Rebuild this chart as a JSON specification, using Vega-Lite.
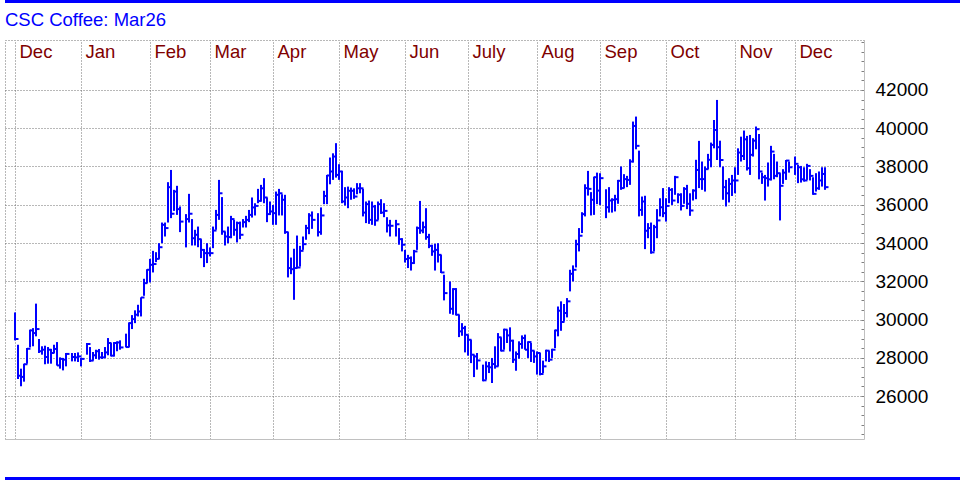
{
"$schema": "https://vega.github.io/schema/vega-lite/v6.json",
"background": "white",
"padding": {"left": 5, "top": 0, "right": 0, "bottom": 0},
"spacing": 0,
"config": {"view": {"stroke": null}, "font": "Liberation Sans"},
"vconcat": [
{"width": 955, "height": 3, "view": {"fill": "#0000ff", "stroke": null}, "data": {"values": []}, "mark": "rule", "encoding": {}},
{"width": 955, "height": 7, "data": {"values": []}, "mark": "rule", "encoding": {}},
{
"width": 859, "height": 399,
"title": {"text": "CSC Coffee: Mar26", "anchor": "start", "frame": "group", "fontSize": 18.5, "font": "Liberation Sans", "fontWeight": "normal", "color": "#0000ff", "offset": 2},
"data": {"values": [
{"i":0,"h":30370,"l":28910,"c":28980},{"i":1,"h":28680,"l":26890,"c":27060},{"i":2,"h":27430,"l":26510,"c":27000},{"i":3,"h":27690,"l":26750,"c":27660},{"i":4,"h":28510,"l":27690,"c":28470},{"i":5,"h":29470,"l":28540,"c":29430},{"i":6,"h":29550,"l":28600,"c":29290},{"i":7,"h":30830,"l":29120,"c":29500},{"i":8,"h":28980,"l":28250,"c":28340},{"i":9,"h":28600,"l":28160,"c":28420},
{"i":10,"h":28630,"l":27660,"c":28040},{"i":11,"h":28560,"l":27690,"c":28420},{"i":12,"h":28460,"l":27690,"c":28250},{"i":13,"h":28680,"l":28250,"c":28460},{"i":14,"h":28820,"l":27590,"c":27600},{"i":15,"h":28020,"l":27430,"c":27940},{"i":16,"h":27990,"l":27340,"c":27900},{"i":17,"h":28250,"l":27550,"c":28200},{"i":19,"h":28250,"l":27810,"c":28040},
{"i":20,"h":28250,"l":27810,"c":28020},{"i":21,"h":28280,"l":27780,"c":28070},{"i":22,"h":27990,"l":27550,"c":27940},{"i":24,"h":28770,"l":28160,"c":28720},{"i":25,"h":28560,"l":27780,"c":27850},{"i":26,"h":28300,"l":27850,"c":28130},{"i":27,"h":28420,"l":27940,"c":28340},{"i":28,"h":28460,"l":27900,"c":28020},{"i":29,"h":28300,"l":27940,"c":28020},
{"i":30,"h":28560,"l":27990,"c":28280},{"i":31,"h":29030,"l":28130,"c":28770},{"i":32,"h":28770,"l":28070,"c":28110},{"i":33,"h":28820,"l":28070,"c":28770},{"i":34,"h":28860,"l":28340,"c":28800},{"i":35,"h":28910,"l":28420,"c":28540},{"i":37,"h":29260,"l":28540,"c":28560},{"i":38,"h":29850,"l":28560,"c":29810},{"i":39,"h":30230,"l":29500,"c":30020},
{"i":40,"h":30480,"l":29810,"c":30250},{"i":41,"h":30770,"l":30160,"c":30420},{"i":42,"h":31160,"l":30160,"c":31150},{"i":43,"h":32130,"l":31240,"c":31900},{"i":44,"h":32630,"l":31900,"c":32600},{"i":45,"h":33170,"l":31940,"c":32860},{"i":46,"h":33590,"l":32460,"c":32900},{"i":47,"h":33520,"l":33000,"c":33170},{"i":48,"h":33990,"l":33170,"c":33780},{"i":49,"h":35070,"l":33990,"c":34950},
{"i":50,"h":35070,"l":34340,"c":34780},{"i":51,"h":37180,"l":35070,"c":36920},{"i":52,"h":37820,"l":35300,"c":35530},{"i":53,"h":36780,"l":35680,"c":36690},{"i":54,"h":36990,"l":35470,"c":35770},{"i":55,"h":35910,"l":34570,"c":35120},{"i":57,"h":35510,"l":33770,"c":35250},{"i":58,"h":36570,"l":35070,"c":35530},{"i":59,"h":35250,"l":33870,"c":34250},
{"i":60,"h":34690,"l":33870,"c":34430},{"i":61,"h":34860,"l":33780,"c":34200},{"i":62,"h":34200,"l":33210,"c":33640},{"i":63,"h":33680,"l":32740,"c":33470},{"i":64,"h":33990,"l":32950,"c":33470},{"i":65,"h":33770,"l":33300,"c":33470},{"i":66,"h":34860,"l":33730,"c":34650},{"i":67,"h":35730,"l":34690,"c":35470},{"i":68,"h":37300,"l":35210,"c":36600},{"i":69,"h":36400,"l":34430,"c":34600},
{"i":70,"h":34600,"l":33870,"c":34340},{"i":71,"h":34860,"l":33990,"c":34310},{"i":72,"h":35420,"l":34250,"c":35250},{"i":73,"h":35210,"l":34380,"c":34690},{"i":74,"h":35120,"l":34030,"c":35040},{"i":75,"h":35120,"l":34200,"c":34430},{"i":76,"h":35250,"l":34810,"c":35090},{"i":77,"h":35420,"l":34810,"c":35210},{"i":78,"h":35730,"l":35090,"c":35470},{"i":79,"h":36380,"l":35330,"c":35860},
{"i":80,"h":36080,"l":35440,"c":35940},{"i":81,"h":36830,"l":36080,"c":36200},{"i":82,"h":37040,"l":36170,"c":36860},{"i":83,"h":37390,"l":36080,"c":36380},{"i":84,"h":36380,"l":35090,"c":35510},{"i":85,"h":36170,"l":35470,"c":35650},{"i":86,"h":35990,"l":34950,"c":35560},{"i":87,"h":36690,"l":34950,"c":36520},{"i":88,"h":36830,"l":35440,"c":36600},{"i":89,"h":36550,"l":35440,"c":36260},
{"i":90,"h":36520,"l":34480,"c":34570},{"i":91,"h":34570,"l":32200,"c":32690},{"i":92,"h":33240,"l":32370,"c":32630},{"i":93,"h":33700,"l":31030,"c":32690},{"i":94,"h":34390,"l":32690,"c":32720},{"i":95,"h":33850,"l":32770,"c":33590},{"i":96,"h":34340,"l":33640,"c":33940},{"i":97,"h":34950,"l":34170,"c":34780},{"i":98,"h":35560,"l":34460,"c":35440},{"i":99,"h":35650,"l":34740,"c":35210},
{"i":101,"h":35560,"l":34340,"c":34570},{"i":102,"h":35860,"l":34430,"c":35440},{"i":103,"h":36730,"l":36030,"c":36460},{"i":104,"h":37560,"l":36030,"c":37530},{"i":105,"h":38470,"l":37070,"c":37740},{"i":106,"h":38690,"l":37300,"c":38520},{"i":107,"h":39220,"l":37420,"c":37560},{"i":108,"h":38120,"l":37300,"c":37740},{"i":109,"h":37770,"l":36080,"c":36170},
{"i":110,"h":36920,"l":35960,"c":36380},{"i":111,"h":36950,"l":35820,"c":36730},{"i":112,"h":36900,"l":36260,"c":36730},{"i":113,"h":36860,"l":36310,"c":36430},{"i":114,"h":37130,"l":36550,"c":36860},{"i":115,"h":37130,"l":36600,"c":36860},{"i":116,"h":36830,"l":35390,"c":35590},{"i":117,"h":36170,"l":35040,"c":36030},{"i":118,"h":36220,"l":35000,"c":35210},{"i":119,"h":36170,"l":34950,"c":35910},
{"i":120,"h":35990,"l":34900,"c":35180},{"i":121,"h":36170,"l":35210,"c":36030},{"i":122,"h":36290,"l":35520,"c":35590},{"i":123,"h":36080,"l":35350,"c":35680},{"i":124,"h":35350,"l":34550,"c":34920},{"i":125,"h":35210,"l":34340,"c":34900},{"i":127,"h":35210,"l":34340,"c":34980},{"i":128,"h":34780,"l":33910,"c":34200},{"i":129,"h":34250,"l":33560,"c":33910},
{"i":130,"h":33640,"l":32980,"c":33160},{"i":131,"h":33380,"l":32690,"c":33210},{"i":132,"h":33300,"l":32560,"c":32950},{"i":133,"h":33640,"l":32910,"c":33560},{"i":134,"h":34860,"l":33640,"c":34780},{"i":135,"h":36200,"l":34480,"c":34650},{"i":136,"h":35120,"l":34510,"c":34830},{"i":137,"h":35820,"l":34170,"c":34310},{"i":138,"h":34480,"l":33730,"c":33850},{"i":139,"h":33910,"l":33330,"c":33560},
{"i":140,"h":33960,"l":32560,"c":33640},{"i":141,"h":33990,"l":32980,"c":33380},{"i":142,"h":33380,"l":32430,"c":32460},{"i":143,"h":32340,"l":31000,"c":31380},{"i":145,"h":31990,"l":30300,"c":30560},{"i":146,"h":31640,"l":30250,"c":31590},{"i":147,"h":31640,"l":30210,"c":30250},{"i":148,"h":30250,"l":29080,"c":29380},{"i":149,"h":29810,"l":29150,"c":29550},
{"i":150,"h":29670,"l":28280,"c":29200},{"i":151,"h":29200,"l":28110,"c":28940},{"i":152,"h":28940,"l":27720,"c":28160},{"i":153,"h":28160,"l":26990,"c":28070},{"i":154,"h":28250,"l":27380,"c":27860},{"i":156,"h":27640,"l":26770,"c":26820},{"i":157,"h":27810,"l":26850,"c":27550},{"i":158,"h":27780,"l":27200,"c":27500},{"i":159,"h":27990,"l":26680,"c":27670},
{"i":160,"h":28600,"l":27430,"c":27550},{"i":161,"h":29290,"l":27550,"c":29070},{"i":162,"h":29070,"l":28330,"c":28370},{"i":163,"h":29520,"l":28420,"c":29470},{"i":164,"h":29470,"l":28770,"c":29170},{"i":165,"h":29590,"l":28330,"c":28890},{"i":166,"h":28940,"l":27730,"c":27900},{"i":167,"h":28330,"l":27320,"c":28200},{"i":168,"h":28860,"l":27950,"c":28720},{"i":169,"h":29170,"l":28470,"c":29030},
{"i":170,"h":29210,"l":28420,"c":28420},{"i":171,"h":28860,"l":27990,"c":28820},{"i":172,"h":28770,"l":27780,"c":28370},{"i":173,"h":28370,"l":27730,"c":28070},{"i":174,"h":28330,"l":27120,"c":28250},{"i":175,"h":28250,"l":27080,"c":27150},{"i":176,"h":27850,"l":27200,"c":27550},{"i":177,"h":28420,"l":27810,"c":28370},{"i":178,"h":28370,"l":27780,"c":27900},{"i":179,"h":28470,"l":27990,"c":28420},
{"i":180,"h":29470,"l":28500,"c":29430},{"i":181,"h":30680,"l":29120,"c":30460},{"i":182,"h":30950,"l":29410,"c":29870},{"i":183,"h":30810,"l":29900,"c":30340},{"i":184,"h":31120,"l":30110,"c":30950},{"i":185,"h":32600,"l":31470,"c":32390},{"i":186,"h":32830,"l":31990,"c":32600},{"i":187,"h":34170,"l":32720,"c":33940},{"i":188,"h":34780,"l":33560,"c":34380},{"i":189,"h":35610,"l":34520,"c":35510},
{"i":190,"h":37070,"l":35390,"c":36870},{"i":191,"h":37770,"l":36480,"c":36830},{"i":192,"h":36660,"l":35440,"c":36260},{"i":193,"h":37470,"l":35470,"c":37440},{"i":194,"h":37680,"l":36030,"c":36740},{"i":195,"h":37650,"l":35990,"c":37390},{"i":197,"h":36810,"l":35300,"c":35870},{"i":198,"h":36920,"l":35590,"c":36220},{"i":199,"h":36340,"l":35590,"c":36260},
{"i":200,"h":36520,"l":35650,"c":36290},{"i":201,"h":37300,"l":36050,"c":37250},{"i":202,"h":38000,"l":36780,"c":36870},{"i":203,"h":37600,"l":36870,"c":37340},{"i":204,"h":37510,"l":36920,"c":37300},{"i":205,"h":38380,"l":37040,"c":38260},{"i":206,"h":40350,"l":38210,"c":40120},{"i":207,"h":40610,"l":38900,"c":39080},{"i":208,"h":38830,"l":35390,"c":35730},{"i":209,"h":36430,"l":35420,"c":36170},
{"i":210,"h":36470,"l":33680,"c":34640},{"i":211,"h":35040,"l":34250,"c":34780},{"i":212,"h":35070,"l":33440,"c":33510},{"i":213,"h":34950,"l":33560,"c":34830},{"i":214,"h":35770,"l":34250,"c":35180},{"i":215,"h":36340,"l":35390,"c":35870},{"i":216,"h":36870,"l":35350,"c":35560},{"i":217,"h":36340,"l":35120,"c":35940},{"i":218,"h":36920,"l":36080,"c":36780},{"i":219,"h":36870,"l":35990,"c":36220},
{"i":220,"h":37510,"l":36520,"c":37440},{"i":221,"h":36600,"l":36080,"c":36520},{"i":222,"h":36600,"l":35700,"c":35940},{"i":223,"h":36920,"l":36050,"c":36830},{"i":224,"h":37040,"l":35770,"c":36050},{"i":225,"h":36600,"l":35420,"c":35700},{"i":226,"h":36810,"l":36220,"c":36740},{"i":227,"h":38350,"l":36290,"c":37820},{"i":228,"h":39340,"l":36870,"c":37340},{"i":229,"h":38260,"l":36780,"c":37340},
{"i":230,"h":38000,"l":36690,"c":37860},{"i":231,"h":38660,"l":37860,"c":38350},{"i":232,"h":39250,"l":37960,"c":39130},{"i":233,"h":40430,"l":38950,"c":39910},{"i":234,"h":41480,"l":38340,"c":39010},{"i":235,"h":39350,"l":37960,"c":38340},{"i":236,"h":38000,"l":36260,"c":36920},{"i":237,"h":37300,"l":35910,"c":36600},{"i":238,"h":37390,"l":36120,"c":37090},{"i":239,"h":37560,"l":36460,"c":37270},
{"i":240,"h":37960,"l":36600,"c":37270},{"i":241,"h":38950,"l":37560,"c":38730},{"i":242,"h":39560,"l":38260,"c":38550},{"i":243,"h":39880,"l":38340,"c":39420},{"i":244,"h":39600,"l":37790,"c":37910},{"i":245,"h":39650,"l":37560,"c":38610},{"i":246,"h":39480,"l":38520,"c":39350},{"i":247,"h":40090,"l":38900,"c":39950},{"i":248,"h":39700,"l":37330,"c":37740},{"i":249,"h":37680,"l":37090,"c":37440},
{"i":250,"h":37560,"l":36220,"c":37390},{"i":251,"h":38210,"l":36950,"c":37330},{"i":252,"h":39080,"l":37270,"c":38780},{"i":253,"h":38660,"l":37330,"c":37510},{"i":254,"h":38260,"l":37440,"c":37650},{"i":255,"h":37650,"l":35180,"c":36990},{"i":256,"h":37860,"l":37090,"c":37680},{"i":257,"h":38340,"l":37300,"c":38310},{"i":258,"h":38260,"l":37680,"c":37960},
{"i":260,"h":38520,"l":37560,"c":38140},{"i":261,"h":38080,"l":37130,"c":37960},{"i":262,"h":38030,"l":37160,"c":37330},{"i":263,"h":37960,"l":37210,"c":37270},{"i":264,"h":38140,"l":37300,"c":38030},{"i":265,"h":37860,"l":37270,"c":37510},{"i":266,"h":37440,"l":36520,"c":36570},{"i":267,"h":37650,"l":36690,"c":36860},{"i":268,"h":37740,"l":36780,"c":37270},{"i":269,"h":37960,"l":36950,"c":37610},
{"i":270,"h":37960,"l":36780,"c":36920}
]},
"layer": [
{"mark": {"type": "rule", "color": "#0000ff", "strokeWidth": 2},
 "encoding": {
  "x": {"field": "i", "type": "quantitative", "scale": {"domain": [-3.333, 283], "nice": false, "zero": false},
   "axis": {"orient": "top", "values": [-3.333, 0, 22, 45, 65, 86, 108, 130, 151, 174, 195, 217, 240, 260],
    "labelExpr": "indexof([0,22,45,65,86,108,130,151,174,195,217,240,260], datum.value) < 0 ? '' : ['Dec','Jan','Feb','Mar','Apr','May','Jun','July','Aug','Sep','Oct','Nov','Dec'][indexof([0,22,45,65,86,108,130,151,174,195,217,240,260], datum.value)]",
    "title": null, "domain": false, "ticks": false, "tickSize": 0,
    "grid": true, "gridColor": "#707070", "gridDash": [1, 2], "gridWidth": 1,
    "labelColor": "#800000", "labelFont": "Liberation Sans", "labelFontSize": 18.5,
    "labelAlign": "left", "labelBaseline": "alphabetic", "labelPadding": -17, "labelOffset": 4,
    "labelOverlap": false, "labelBound": false, "labelFlush": false}},
  "y": {"field": "h", "type": "quantitative", "scale": {"domain": [23752, 44614], "nice": false, "zero": false},
   "axis": {"orient": "right",
    "values": [24000,24500,25000,25500,26000,26500,27000,27500,28000,28500,29000,29500,30000,30500,31000,31500,32000,32500,33000,33500,34000,34500,35000,35500,36000,36500,37000,37500,38000,38500,39000,39500,40000,40500,41000,41500,42000,42500,43000,43500,44000,44500,44614],
    "format": "d",
    "labelExpr": "(datum.value % 2000 === 0 && datum.value >= 26000 && datum.value <= 42000) ? datum.label : ''",
    "title": null, "domain": true, "domainColor": "#c0c0c0", "domainWidth": 1,
    "ticks": true, "tickSize": -3, "tickColor": "#808080",
    "tickOpacity": {"condition": {"test": "datum.value > 44550", "value": 0}, "value": 1},
    "grid": true, "gridColor": "#707070", "gridDash": [1, 2],
    "gridOpacity": {"condition": {"test": "(datum.value % 2000 === 0 && datum.value >= 26000 && datum.value <= 42000) || datum.value > 44550", "value": 1}, "value": 0},
    "labelColor": "#000000", "labelFont": "Liberation Sans", "labelFontSize": 19, "labelPadding": 14,
    "labelOverlap": false, "labelBound": false, "labelFlush": false}},
  "y2": {"field": "l"}
 }},
{"mark": {"type": "tick", "orient": "horizontal", "color": "#0000ff", "thickness": 2, "size": 3.5, "xOffset": 1.75, "opacity": 1},
 "encoding": {
  "x": {"field": "i", "type": "quantitative", "axis": {"orient": "bottom", "labels": false, "ticks": false, "grid": false, "domain": true, "domainColor": "#c0c0c0", "title": null}},
  "y": {"field": "c", "type": "quantitative", "axis": null}
 }}
],
"resolve": {"axis": {"x": "independent", "y": "independent"}}
},
{"width": 955, "height": 32, "data": {"values": []}, "mark": "rule", "encoding": {}},
{"width": 955, "height": 3, "view": {"fill": "#0000ff", "stroke": null}, "data": {"values": []}, "mark": "rule", "encoding": {}}
]
}
